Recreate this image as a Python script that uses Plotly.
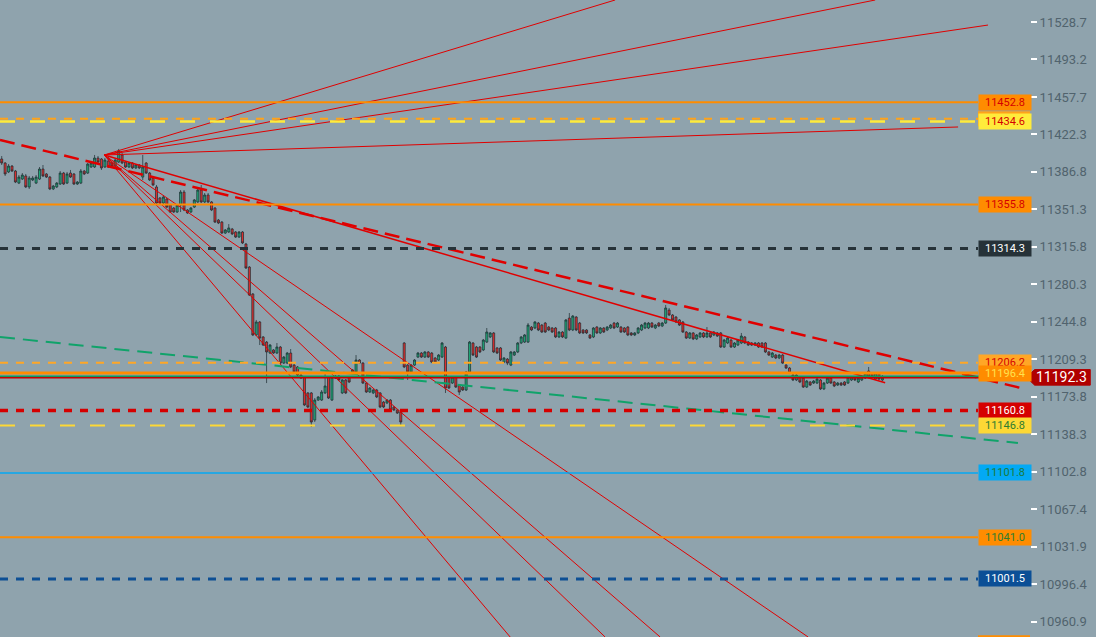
import plotly.graph_objects as go

# ---------------- candle data (price units) ----------------
opens = [
11399.0, 11395.2, 11386.7, 11392.3, 11387.6, 11376.2, 11380.0, 11382.9, 11372.5, 11379.1,
11376.2, 11380.0, 11389.5, 11384.8, 11381.9, 11370.6, 11372.5, 11375.3, 11385.7, 11376.2,
11385.7, 11384.8, 11375.3, 11376.2, 11387.6, 11385.7, 11391.4, 11391.4, 11399.9, 11399.0,
11391.4, 11397.1, 11395.2, 11392.3, 11396.1, 11402.8, 11396.1, 11391.4, 11395.2, 11390.5,
11393.3, 11381.9, 11395.2, 11385.7, 11381.0, 11372.5, 11362.1, 11357.3, 11361.1, 11355.4,
11352.6, 11348.8, 11355.4, 11367.7, 11350.7, 11348.8, 11353.5, 11358.3, 11369.6, 11358.3,
11364.9, 11358.3, 11352.6, 11341.2, 11339.3, 11328.9, 11329.9, 11332.7, 11329.9, 11325.1,
11329.9, 11318.5, 11296.7, 11271.2, 11232.4, 11244.7, 11230.5, 11225.7, 11215.3, 11218.2,
11215.3, 11221.0, 11205.8, 11205.8, 11215.3, 11203.9, 11202.1, 11194.5, 11192.6, 11177.5,
11177.5, 11151.9, 11170.8, 11170.8, 11177.5, 11192.6, 11170.8, 11191.6, 11193.5, 11177.5,
11189.8, 11192.6, 11196.4, 11197.3, 11208.7, 11205.8, 11186.9, 11178.4, 11177.5, 11180.3,
11177.5, 11168.9, 11168.0, 11170.8, 11164.2, 11161.4, 11159.5, 11224.8, 11203.9, 11197.3,
11203.9, 11211.5, 11215.3, 11211.5, 11216.3, 11215.3, 11210.6, 11208.7, 11211.5, 11221.0,
11192.6, 11186.9, 11192.6, 11185.0, 11183.1, 11180.3, 11197.3, 11224.8, 11221.0, 11221.0,
11218.2, 11225.7, 11230.5, 11234.3, 11220.1, 11220.1, 11206.8, 11209.6, 11203.9, 11213.4,
11216.3, 11224.8, 11225.7, 11225.7, 11239.9, 11239.0, 11243.7, 11241.8, 11243.7, 11239.9,
11239.0, 11239.0, 11230.5, 11235.2, 11229.5, 11248.4, 11237.1, 11249.4, 11243.7, 11237.1,
11237.1, 11232.4, 11230.5, 11239.9, 11234.3, 11239.0, 11237.1, 11239.0, 11243.7, 11239.9,
11239.9, 11239.0, 11239.9, 11234.3, 11232.4, 11234.3, 11237.1, 11239.0, 11239.0, 11243.7,
11239.0, 11243.7, 11240.9, 11243.7, 11256.0, 11251.3, 11249.4, 11246.6, 11244.7, 11235.2,
11229.5, 11234.3, 11228.6, 11230.5, 11234.3, 11230.5, 11234.3, 11232.4, 11234.3, 11234.3,
11221.0, 11224.8, 11227.6, 11221.0, 11222.9, 11224.8, 11230.5, 11225.7, 11224.8, 11222.9,
11224.8, 11224.8, 11224.8, 11216.3, 11211.5, 11213.4, 11210.6, 11213.4, 11203.9, 11201.1,
11194.5, 11189.8, 11192.6, 11191.6, 11183.1, 11187.9, 11186.9, 11186.9, 11189.8, 11181.3,
11186.9, 11191.6, 11187.9, 11185.0, 11186.9, 11187.9, 11186.9, 11189.8, 11192.6, 11187.9,
11189.8, 11191.6, 11198.3, 11196.4, 11190.7, 11196.4, 11189.8,
]
highs = [
11401.8, 11396.1, 11394.2, 11393.3, 11388.6, 11383.8, 11385.7, 11384.8, 11382.9, 11382.9,
11383.8, 11391.4, 11393.3, 11385.7, 11382.9, 11374.4, 11377.2, 11387.6, 11386.7, 11386.7,
11388.6, 11385.7, 11378.1, 11389.5, 11388.6, 11395.2, 11396.1, 11402.8, 11401.8, 11399.9,
11399.9, 11400.9, 11396.1, 11399.9, 11408.5, 11404.7, 11397.1, 11396.1, 11396.1, 11394.2,
11394.2, 11402.8, 11396.1, 11386.7, 11382.9, 11374.4, 11363.0, 11364.9, 11362.1, 11356.4,
11353.5, 11356.4, 11369.6, 11369.6, 11351.6, 11353.5, 11361.1, 11371.5, 11374.4, 11366.8,
11366.8, 11359.2, 11353.5, 11342.2, 11340.3, 11332.7, 11337.4, 11333.7, 11330.8, 11330.8,
11330.8, 11319.5, 11297.7, 11272.1, 11246.6, 11245.6, 11231.4, 11226.7, 11223.8, 11219.1,
11224.8, 11222.0, 11212.5, 11216.3, 11219.1, 11204.9, 11203.0, 11195.4, 11193.5, 11178.4,
11178.4, 11172.7, 11174.6, 11180.3, 11197.3, 11193.5, 11193.5, 11194.5, 11194.5, 11190.7,
11190.7, 11193.5, 11200.2, 11213.4, 11209.6, 11206.8, 11187.9, 11183.1, 11181.3, 11181.3,
11178.4, 11169.9, 11171.8, 11171.8, 11165.1, 11162.3, 11160.4, 11225.7, 11204.9, 11204.9,
11209.6, 11216.3, 11216.3, 11217.2, 11217.2, 11216.3, 11211.5, 11214.4, 11225.7, 11222.0,
11193.5, 11193.5, 11193.5, 11186.0, 11184.1, 11198.3, 11226.7, 11225.7, 11222.0, 11222.0,
11228.6, 11239.0, 11235.2, 11235.2, 11221.0, 11221.0, 11211.5, 11210.6, 11217.2, 11217.2,
11225.7, 11231.4, 11233.3, 11243.7, 11240.9, 11245.6, 11244.7, 11242.8, 11244.7, 11240.9,
11239.9, 11239.9, 11236.1, 11236.1, 11247.5, 11253.2, 11251.3, 11250.3, 11244.7, 11238.0,
11238.0, 11233.3, 11239.9, 11240.9, 11239.9, 11239.9, 11240.9, 11242.8, 11244.7, 11244.7,
11240.9, 11239.9, 11240.9, 11235.2, 11235.2, 11239.9, 11242.8, 11244.7, 11244.7, 11244.7,
11242.8, 11244.7, 11244.7, 11260.8, 11257.9, 11252.2, 11250.3, 11247.5, 11245.6, 11236.1,
11235.2, 11235.2, 11233.3, 11235.2, 11235.2, 11239.9, 11235.2, 11236.1, 11235.2, 11235.2,
11228.6, 11230.5, 11228.6, 11225.7, 11228.6, 11234.3, 11231.4, 11226.7, 11225.7, 11225.7,
11225.7, 11225.7, 11225.7, 11217.2, 11216.3, 11214.4, 11214.4, 11214.4, 11204.9, 11202.1,
11195.4, 11195.4, 11193.5, 11192.6, 11189.8, 11188.8, 11189.8, 11191.6, 11190.7, 11187.9,
11192.6, 11192.6, 11188.8, 11187.9, 11187.9, 11188.8, 11193.5, 11193.5, 11193.5, 11192.6,
11193.5, 11197.3, 11202.1, 11197.3, 11197.3, 11197.3, 11194.5,
]
lows = [
11393.3, 11382.9, 11385.7, 11386.7, 11376.2, 11375.3, 11379.1, 11371.5, 11370.6, 11378.1,
11375.3, 11379.1, 11381.9, 11381.0, 11369.6, 11369.6, 11371.5, 11374.4, 11374.4, 11375.3,
11381.0, 11374.4, 11374.4, 11375.3, 11383.8, 11384.8, 11390.5, 11390.5, 11395.2, 11388.6,
11390.5, 11390.5, 11391.4, 11391.4, 11395.2, 11394.2, 11390.5, 11390.5, 11389.5, 11389.5,
11389.5, 11379.1, 11384.8, 11378.1, 11373.4, 11356.4, 11355.4, 11356.4, 11352.6, 11347.9,
11347.9, 11347.9, 11348.8, 11349.7, 11347.0, 11347.9, 11352.6, 11357.3, 11357.3, 11357.3,
11357.3, 11349.7, 11338.4, 11337.4, 11328.0, 11328.0, 11328.9, 11327.0, 11324.2, 11324.2,
11318.5, 11294.9, 11269.3, 11231.4, 11231.4, 11222.9, 11222.0, 11186.9, 11214.4, 11214.4,
11214.4, 11204.9, 11204.9, 11204.9, 11201.1, 11196.4, 11193.5, 11190.7, 11165.1, 11163.2,
11145.3, 11150.0, 11169.9, 11169.9, 11176.5, 11171.8, 11169.9, 11190.7, 11188.8, 11176.5,
11176.5, 11186.9, 11195.4, 11196.4, 11204.9, 11186.0, 11177.5, 11177.5, 11176.5, 11172.7,
11163.2, 11163.2, 11167.0, 11160.4, 11160.4, 11157.6, 11147.2, 11201.1, 11189.8, 11196.4,
11203.0, 11210.6, 11210.6, 11210.6, 11210.6, 11205.8, 11205.8, 11207.7, 11210.6, 11177.5,
11181.3, 11186.0, 11182.2, 11175.6, 11179.4, 11179.4, 11196.4, 11212.5, 11210.6, 11215.3,
11217.2, 11224.8, 11229.5, 11215.3, 11214.4, 11207.7, 11205.8, 11203.9, 11203.0, 11212.5,
11215.3, 11223.8, 11224.8, 11224.8, 11236.1, 11238.0, 11236.1, 11234.3, 11234.3, 11236.1,
11234.3, 11229.5, 11229.5, 11229.5, 11228.6, 11236.1, 11236.1, 11236.1, 11233.3, 11233.3,
11233.3, 11228.6, 11229.5, 11233.3, 11233.3, 11234.3, 11236.1, 11238.0, 11238.0, 11239.0,
11234.3, 11234.3, 11231.4, 11231.4, 11231.4, 11233.3, 11236.1, 11238.0, 11238.0, 11239.0,
11238.0, 11239.9, 11239.9, 11242.8, 11250.3, 11245.6, 11243.7, 11240.9, 11234.3, 11228.6,
11228.6, 11227.6, 11227.6, 11229.5, 11229.5, 11229.5, 11229.5, 11231.4, 11230.5, 11220.1,
11220.1, 11223.8, 11220.1, 11220.1, 11222.0, 11223.8, 11223.8, 11222.0, 11222.0, 11222.0,
11220.1, 11220.1, 11215.3, 11212.5, 11210.6, 11209.6, 11209.6, 11204.9, 11200.2, 11195.4,
11188.8, 11188.8, 11186.9, 11182.2, 11182.2, 11184.1, 11186.0, 11186.0, 11180.3, 11180.3,
11186.0, 11186.0, 11183.1, 11184.1, 11184.1, 11184.1, 11186.0, 11188.8, 11188.8, 11186.9,
11188.8, 11190.7, 11191.6, 11191.6, 11189.8, 11189.8, 11188.8,
]
closes = [
11395.2, 11384.8, 11392.3, 11387.6, 11377.2, 11381.9, 11383.8, 11372.5, 11381.0, 11381.0,
11381.9, 11389.5, 11382.9, 11381.9, 11370.6, 11373.4, 11376.2, 11385.7, 11375.3, 11384.8,
11381.9, 11375.3, 11377.2, 11387.6, 11384.8, 11394.2, 11395.2, 11399.9, 11396.1, 11390.5,
11398.0, 11391.4, 11392.3, 11398.0, 11406.5, 11395.2, 11391.4, 11395.2, 11390.5, 11393.3,
11390.5, 11391.4, 11385.7, 11379.1, 11374.4, 11357.3, 11357.3, 11363.0, 11353.5, 11348.8,
11348.8, 11355.4, 11367.7, 11350.7, 11347.9, 11352.6, 11360.2, 11369.6, 11358.3, 11364.9,
11358.3, 11350.7, 11339.3, 11338.4, 11328.9, 11331.8, 11333.7, 11328.0, 11325.1, 11329.9,
11319.5, 11295.8, 11270.2, 11232.4, 11244.7, 11229.5, 11222.9, 11216.3, 11222.9, 11215.3,
11221.0, 11205.8, 11211.5, 11215.3, 11202.1, 11197.3, 11194.5, 11191.6, 11166.1, 11164.2,
11150.0, 11170.8, 11173.7, 11178.4, 11184.1, 11172.7, 11192.6, 11193.5, 11189.8, 11189.8,
11177.5, 11187.9, 11199.2, 11208.7, 11205.8, 11186.9, 11178.4, 11182.2, 11180.3, 11173.7,
11164.2, 11164.2, 11170.8, 11161.4, 11161.4, 11158.5, 11150.0, 11202.1, 11197.3, 11203.9,
11208.7, 11215.3, 11211.5, 11216.3, 11211.5, 11206.8, 11206.8, 11213.4, 11224.8, 11182.2,
11182.2, 11192.6, 11183.1, 11178.4, 11180.3, 11197.3, 11225.7, 11213.4, 11211.5, 11216.3,
11227.6, 11235.2, 11234.3, 11216.3, 11215.3, 11208.7, 11210.6, 11205.8, 11216.3, 11216.3,
11224.8, 11230.5, 11232.4, 11241.8, 11237.1, 11244.7, 11237.1, 11235.2, 11235.2, 11237.1,
11235.2, 11230.5, 11235.2, 11230.5, 11246.6, 11237.1, 11250.3, 11237.1, 11234.3, 11234.3,
11234.3, 11229.5, 11239.0, 11234.3, 11239.0, 11235.2, 11239.9, 11241.8, 11239.0, 11243.7,
11235.2, 11235.2, 11232.4, 11232.4, 11234.3, 11239.0, 11241.8, 11243.7, 11243.7, 11239.9,
11241.8, 11240.9, 11243.7, 11257.9, 11251.3, 11246.6, 11244.7, 11241.8, 11235.2, 11229.5,
11234.3, 11228.6, 11232.4, 11234.3, 11230.5, 11234.3, 11230.5, 11235.2, 11231.4, 11221.0,
11227.6, 11229.5, 11221.0, 11224.8, 11227.6, 11231.4, 11224.8, 11222.9, 11222.9, 11224.8,
11221.0, 11221.0, 11216.3, 11213.4, 11215.3, 11210.6, 11213.4, 11205.8, 11201.1, 11196.4,
11189.8, 11194.5, 11187.9, 11183.1, 11188.8, 11185.0, 11188.8, 11190.7, 11181.3, 11186.9,
11191.6, 11186.9, 11184.1, 11186.9, 11185.0, 11185.0, 11192.6, 11192.6, 11189.8, 11191.6,
11192.6, 11196.4, 11192.6, 11192.6, 11196.4, 11190.7, 11192.3,
]
n = min(len(opens), len(highs), len(lows), len(closes))
bars = list(range(n))

# ---------------- drawing tools (bar index, price) ----------------
pivot = (29.8, 11402.8)
fan_up_ends = [(178.3, 11549.5), (253.9, 11549.5), (286.7, 11525.8), (278.0, 11429.3)]
fan_down_ends = [(147.8, 10946.5), (175.4, 10946.5), (191.4, 10946.5), (234.4, 10946.5)]
trend_solid_end = (256.8, 11187.2)
trend_dashed = [(-0.49, 11417.0), (297.5, 11181.2)]
green_dashed = [(-0.49, 11230.5), (295.4, 11130.1)]

# horizontal levels with visible labels
level_prices = [11452.8, 11434.6, 11355.8, 11314.3, 11206.2, 11196.4,
                11160.8, 11146.8, 11101.8, 11041.0, 11001.5]
level_colors = ["#ff8c00", "#ffeb3b", "#ff8c00", "#263238", "#ffa726", "#ff8c00",
                "#d50000", "#fdd835", "#03a9f4", "#ff8c00", "#0d4f94"]
level_widths = [2, 2.5, 2, 3, 2, 3, 3.5, 2, 1.5, 2, 3]
level_dash = ["solid", "15px,15px", "solid", "8px,8px", "8px,8px", "solid",
              "8px,8px", "15px,15px", "solid", "solid", "8px,8px"]
label_bg = ["#ff8c00", "#ffeb3b", "#ff8c00", "#263238", "#ffa726", "#ff8c00",
            "#d50000", "#fdd835", "#03a9f4", "#ff8c00", "#0b4f96"]
label_fg = ["#d50000", "#d50000", "#d50000", "#ffffff", "#d50000", "#ffe14d",
            "#ffffff", "#2e7d32", "#1b7a3a", "#2e7d32", "#ffffff"]

# level whose label is hidden behind the 11434.6 label
hidden_level = 11437.0
hidden_color = "#ffa31a"

bid_price = 11193.4
last_price = 11192.3
offscreen_level = 10941.0   # label peeking in at the bottom edge

tick_vals = [11528.7, 11493.2, 11457.7, 11422.3, 11386.8, 11351.3, 11315.8, 11280.3,
             11244.8, 11209.3, 11173.8, 11138.3, 11102.8, 11067.4, 11031.9, 10996.4, 10960.9]
tick_text = [f"{v:.1f}" for v in tick_vals]

X_RANGE = [-0.49, 298.9]
Y_RANGE = [10946.5, 11549.5]
LBL_X = 0.9495
LBL_X1 = 1.0
PX_PRICE = 0.9467   # price units per pixel on this chart

fig = go.Figure()
fig.add_trace(go.Candlestick(
    x=bars, open=opens[:n], high=highs[:n], low=lows[:n], close=closes[:n],
    increasing=dict(line=dict(color="#1d2b31", width=0.7), fillcolor="#1fa878"),
    decreasing=dict(line=dict(color="#1d2b31", width=0.7), fillcolor="#dc2f2f"),
    whiskerwidth=0, hoverinfo="skip", showlegend=False))

# fan lines
fx, fy = [], []
for (ex, ey) in fan_up_ends + fan_down_ends:
    fx += [pivot[0], ex, None]
    fy += [pivot[1], ey, None]
fig.add_trace(go.Scatter(x=fx, y=fy, mode="lines", line=dict(color="#e00000", width=1),
                         hoverinfo="skip", showlegend=False))
fig.add_trace(go.Scatter(x=[pivot[0], trend_solid_end[0]], y=[pivot[1], trend_solid_end[1]],
                         mode="lines", line=dict(color="#e00000", width=1.5),
                         hoverinfo="skip", showlegend=False))
fig.add_trace(go.Scatter(x=[p[0] for p in trend_dashed], y=[p[1] for p in trend_dashed],
                         mode="lines", line=dict(color="#e00000", width=2.5, dash="15px,7px"),
                         hoverinfo="skip", showlegend=False))
fig.add_trace(go.Scatter(x=[p[0] for p in green_dashed], y=[p[1] for p in green_dashed],
                         mode="lines", line=dict(color="#10a36a", width=2, dash="15px,8px"),
                         hoverinfo="skip", showlegend=False))

shapes = []
# hidden level line and its (covered) label box
shapes.append(dict(type="line", xref="paper", yref="y", x0=0, x1=LBL_X, y0=hidden_level,
                   y1=hidden_level, line=dict(color=hidden_color, width=2, dash="8px,8px"),
                   layer="above"))
shapes.append(dict(type="rect", xref="paper", yref="y", x0=LBL_X, x1=LBL_X1,
                   y0=hidden_level - 7.5 * PX_PRICE, y1=hidden_level + 7.5 * PX_PRICE,
                   fillcolor=hidden_color, line=dict(width=0), layer="above"))
# off-screen level label box peeking at the bottom
shapes.append(dict(type="rect", xref="paper", yref="paper", x0=LBL_X, x1=LBL_X1,
                   y0=0, y1=(offscreen_level + 7.5 * PX_PRICE - Y_RANGE[0]) / (Y_RANGE[1] - Y_RANGE[0]),
                   fillcolor="#ff8c00", line=dict(width=0), layer="above"))
for p, c, w, d in zip(level_prices, level_colors, level_widths, level_dash):
    shapes.append(dict(type="line", xref="paper", yref="y", x0=0, x1=LBL_X, y0=p, y1=p,
                       line=dict(color=c, width=w, dash=d), layer="above"))
shapes.append(dict(type="line", xref="paper", yref="y", x0=0, x1=LBL_X1, y0=bid_price, y1=bid_price,
                   line=dict(color="#10995a", width=1.5), layer="above"))
shapes.append(dict(type="line", xref="paper", yref="y", x0=0, x1=LBL_X1, y0=last_price - 0.5,
                   y1=last_price - 0.5, line=dict(color="#c40000", width=1.5), layer="above"))

annotations = []
for p, bg, fg in zip(level_prices, label_bg, label_fg):
    annotations.append(dict(xref="paper", yref="y", x=LBL_X, y=p, xanchor="left", yanchor="middle",
                            text=f"{p:.1f}", showarrow=False, bgcolor=bg, width=50, height=13,
                            borderpad=1, font=dict(family="Roboto", size=11, color=fg)))

# last price label (arrow-shaped box)
yt, yb = last_price + 7.8 * PX_PRICE, last_price - 7.8 * PX_PRICE
shapes.append(dict(type="path", xref="paper", yref="y", layer="above",
                   path=f"M 0.9965 {last_price} L 1.0045 {yt} L 1.0585 {yt} L 1.0585 {yb} L 1.0045 {yb} Z",
                   fillcolor="#b00000", line=dict(color="#b00000", width=1)))
annotations.append(dict(xref="paper", yref="y", x=1.031, y=last_price, xanchor="center",
                        yanchor="middle", text=f"{last_price:.1f}", showarrow=False,
                        font=dict(family="Roboto", size=14, color="#ffffff")))

fig.update_layout(
    width=1096, height=637, autosize=False,
    margin=dict(l=0, r=66, t=0, b=0),
    paper_bgcolor="#8fa3ad", plot_bgcolor="#8fa3ad",
    showlegend=False, shapes=shapes, annotations=annotations,
    boxgap=0.15,
    xaxis=dict(range=X_RANGE, visible=False, rangeslider=dict(visible=False), fixedrange=True),
    yaxis=dict(range=Y_RANGE, side="right", showgrid=False, zeroline=False, showline=False,
               tickvals=tick_vals, ticktext=tick_text, ticks="outside", ticklen=6,
               tickcolor="#ffffff", tickwidth=1.5,
               tickfont=dict(family="Roboto", size=13, color="#51636e")),
)

fig.write_html("out.html", config={"displayModeBar": False},
               post_script="document.body.style.margin='0';document.body.style.overflow='hidden';")
